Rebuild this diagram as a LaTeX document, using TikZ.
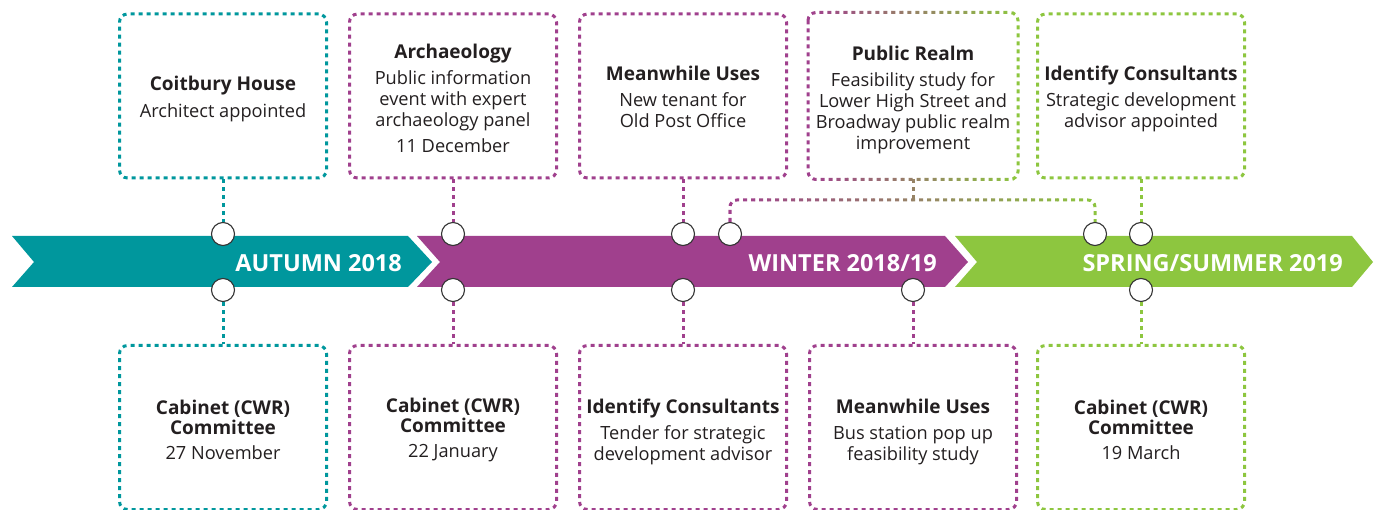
\documentclass[tikz,border=0pt]{standalone}
\usepackage{fontspec}
\setmainfont{Open Sans}
\definecolor{cteal}{HTML}{00979D}
\definecolor{cpurp}{HTML}{A0408D}
\definecolor{cgreen}{HTML}{8DC63F}
\definecolor{ctext}{HTML}{231F20}
\definecolor{cring}{HTML}{333333}
\newcommand{\hd}[1]{{\bfseries\fontsize{19}{20}\selectfont #1}}
\newcommand{\dn}[1]{\rule{0pt}{#1pt}}
\tikzset{
  box/.style={minimum width=207pt, minimum height=164pt, inner sep=0pt, align=center,
    text=ctext, font=\fontsize{18.2}{20.8}\selectfont, line width=3pt,
    dash pattern=on 4pt off 4pt, rounded corners=8pt},
  dotline/.style={line width=3pt, dash pattern=on 4pt off 4pt},
  boxline/.style={dotline, rounded corners=8pt},
  ring/.style={circle, minimum size=23pt, inner sep=0pt, fill=white, draw=cring, line width=1.1pt},
  bandlabel/.style={text=white, font=\bfseries\fontsize{23.5}{26}\selectfont, anchor=east, inner sep=0pt}
}
\begin{document}
\begin{tikzpicture}[x=1pt,y=-1pt]
\useasboundingbox (0,0) rectangle (1378,510);
% bands
\fill[cteal] (12,236) -- (408,236) -- (432,262) -- (408,287) -- (12,287) -- (34,262) -- cycle;
\fill[cpurp] (417,236) -- (945,236) -- (968,262) -- (945,287) -- (417,287) -- (440,262) -- cycle;
\fill[cgreen] (955,236) -- (1352,236) -- (1373,262) -- (1352,287) -- (955,287) -- (977,262) -- cycle;
\node[bandlabel] (l1) at (402,263) {AUTUMN 2018};
\node[bandlabel] (l2) at (937,263) {WINTER 2018/19};
\node[bandlabel] (l3) at (1343,263) {SPRING/SUMMER 2019};
% top boxes
\node[box, draw=cteal] (t1) at (223,96) {\dn{20.5}\hd{Coitbury House}\\[6pt]Architect appointed};
\node[box, draw=cpurp] (t2) at (453,96) {\dn{18.5}\hd{Archaeology}\\[5.5pt]Public information\\event with expert\\archaeology panel\\[5pt]11 December};
\node[box, draw=cpurp] (t3) at (683,96) {\dn{16.5}\hd{Meanwhile Uses}\\[5.5pt]New tenant for\\Old Post Office};
\node[box] (t4) at (913,96) {\dn{22.5}\hd{Public Realm}\\[5pt]Feasibility study for\\Lower High Street and\\Broadway public realm\\improvement};
\node[box, draw=cgreen] (t5) at (1141,96) {\dn{20.5}\hd{Identify Consultants}\\[5.5pt]Strategic development\\advisor appointed};
% bottom boxes
\node[box, draw=cteal] (b1) at (223,427.5) {\dn{19.5}\hd{Cabinet (CWR)}\\[-1pt]\hd{Committee}\\[5pt]27 November};
\node[box, draw=cpurp] (b2) at (453,427.5) {\dn{19.5}\hd{Cabinet (CWR)}\\[-1pt]\hd{Committee}\\[5pt]22 January};
\node[box, draw=cpurp] (b3) at (683,427.5) {\dn{22.5}\hd{Identify Consultants}\\[5.5pt]Tender for strategic\\development advisor};
\node[box, draw=cpurp] (b4) at (913,427.5) {\dn{22.5}\hd{Meanwhile Uses}\\[5.5pt]Bus station pop up\\feasibility study};
\node[box, draw=cgreen] (b5) at (1141,427.5) {\dn{19.5}\hd{Cabinet (CWR)}\\[-1pt]\hd{Committee}\\[5pt]19 March};
% circles
\node[ring] (c1t) at (223,234) {};
\node[ring] (c2t) at (453,234) {};
\node[ring] (c3t) at (683,234) {};
\node[ring] (c4l) at (730,234) {};
\node[ring] (c4r) at (1095,234) {};
\node[ring] (c5t) at (1141,234) {};
\node[ring] (c1b) at (223,290) {};
\node[ring] (c2b) at (453,290) {};
\node[ring] (c3b) at (683,290) {};
\node[ring] (c4b) at (913,290) {};
\node[ring] (c5b) at (1141,290) {};
\coordinate (j) at (913,200);
% connectors
\draw[dotline, cteal] (t1.south) -- (c1t.north);
\draw[dotline, cpurp] (t2.south) -- (c2t.north);
\draw[dotline, cpurp] (t3.south) -- (c3t.north);
\draw[dotline, cgreen] (t5.south) -- (c5t.north);
\draw[dotline, cteal] (c1b.south) -- (b1.north);
\draw[dotline, cpurp] (c2b.south) -- (b2.north);
\draw[dotline, cpurp] (c3b.south) -- (b3.north);
\draw[dotline, cpurp] (c4b.south) -- (b4.north);
\draw[dotline, cgreen] (c5b.south) -- (b5.north);
% gradient box and connector
\foreach \i in {0,...,19}{
  \pgfmathsetmacro\xa{803+\i*221/20}
  \pgfmathsetmacro\xb{803+(\i+1)*221/20+0.6}
  \pgfmathtruncatemacro\p{100*\i/19}
  \begin{scope}
    \clip (\xa,0) rectangle (\xb,190);
    \draw[boxline, draw=cgreen!\p!cpurp] (t4.north west) rectangle (t4.south east);
  \end{scope}
}
\foreach \i in {0,...,29}{
  \pgfmathsetmacro\xa{715+\i*395/30}
  \pgfmathsetmacro\xb{715+(\i+1)*395/30+0.6}
  \pgfmathtruncatemacro\p{max(0,min(100,(\xa+6.5-730)/3.65))}
  \begin{scope}
    \clip (\xa,179) rectangle (\xb,224);
    \draw[dotline, rounded corners=7pt, draw=cgreen!\p!cpurp] (c4l.north) |- (j) -| (c4r.north);
    \draw[dotline, draw=cgreen!\p!cpurp] (t4.south) -- (j);
  \end{scope}
}
\end{tikzpicture}
\end{document}
